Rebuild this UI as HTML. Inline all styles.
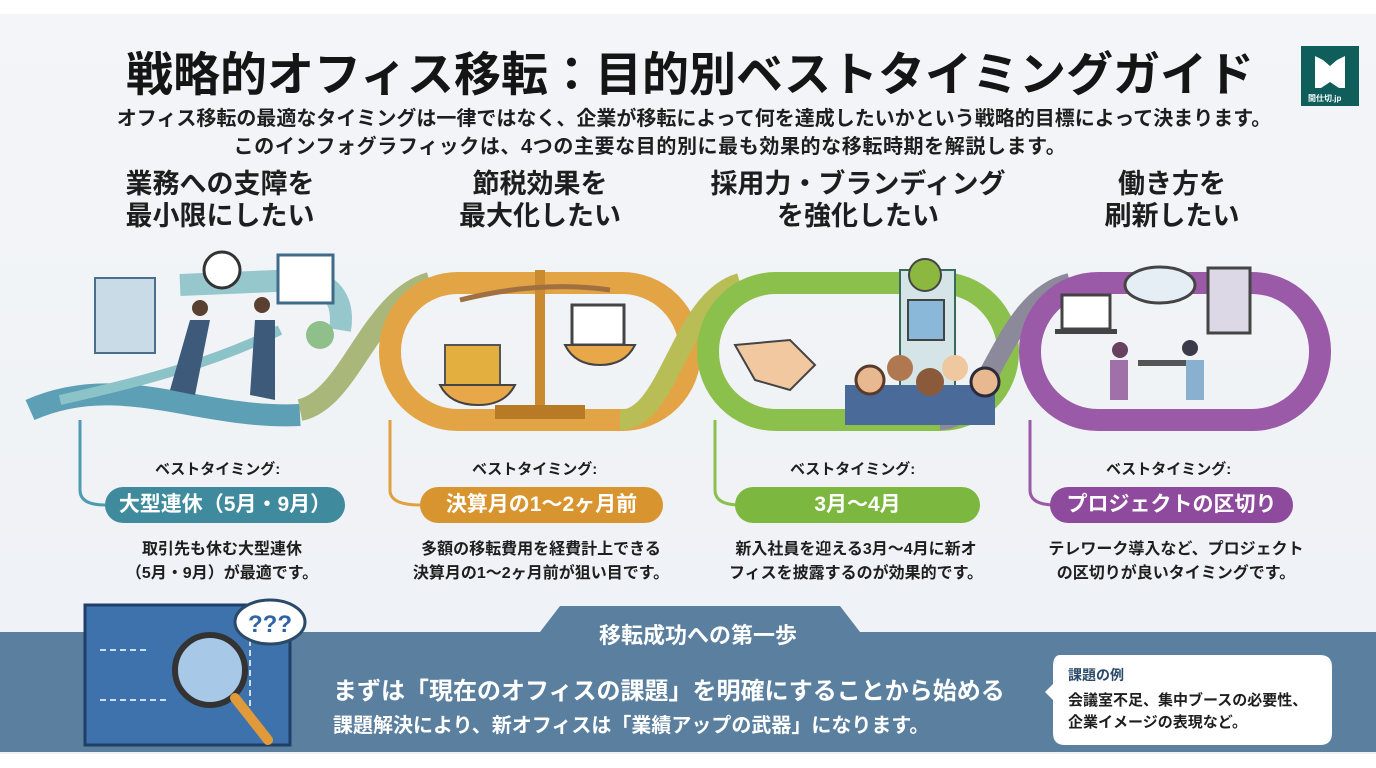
<!DOCTYPE html>
<html><head><meta charset="utf-8"><style>
body{margin:0;width:1376px;height:768px;overflow:hidden;background:#fff;font-family:"Liberation Sans","Noto Sans CJK JP",sans-serif;}
.wrap{position:absolute;left:0;top:14px;width:1376px;height:740px;background:linear-gradient(#f3f5f8,#eef1f5);}
.t{position:absolute;white-space:nowrap;font-weight:700;color:#1e1e1e;}
.c{text-align:center;transform:translateX(-50%);}
.pill{position:absolute;height:36px;border-radius:18px;color:#fff;font-weight:700;font-size:21px;line-height:36px;text-align:center;}
</style></head><body>
<div class="wrap"></div>
<div class="t c" style="left:690px;top:36px;font-size:47px;color:#151515;">戦略的オフィス移転：目的別ベストタイミングガイド</div>
<div style="position:absolute;left:1301px;top:46px;width:58px;height:60px;background:#0f5e5c;"></div>
<svg style="position:absolute;left:1301px;top:46px" width="58" height="60"><path d="M14,10 L22,14 L29,20 L36,14 L44,10 L44,42 L38,42 L29,36 L20,42 L14,42Z" fill="#fff"/></svg>
<div class="t" style="left:1308px;top:93px;color:#fff;font-size:8px;">間仕切.jp</div>
<div class="t c" style="left:694px;top:102px;font-size:20px;">オフィス移転の最適なタイミングは一律ではなく、企業が移転によって何を達成したいかという戦略的目標によって決まります。</div>
<div class="t c" style="left:650px;top:130px;font-size:20px;letter-spacing:0.6px;">このインフォグラフィックは、4つの主要な目的別に最も効果的な移転時期を解説します。</div>

<div class="t c" style="left:220px;top:168px;font-size:27px;line-height:32px;">業務への支障を<br>最小限にしたい</div>
<div class="t c" style="left:540px;top:168px;font-size:27px;line-height:32px;">節税効果を<br>最大化したい</div>
<div class="t c" style="left:858px;top:168px;font-size:27px;line-height:32px;">採用力・ブランディング<br>を強化したい</div>
<div class="t c" style="left:1172px;top:168px;font-size:27px;line-height:32px;">働き方を<br>刷新したい</div>

<svg style="position:absolute;left:0;top:0" width="1376" height="768">
<path d="M30,410 C120,370 200,420 300,415" fill="none" stroke="#4d96ad" stroke-width="22" opacity="0.9"/>
<path d="M60,400 C150,380 220,360 280,330" fill="none" stroke="#8cc3c9" stroke-width="10"/>
<path d="M180,285 L300,280 C330,280 345,300 340,330" fill="none" stroke="#7fbcc2" stroke-width="22" opacity="0.8"/>
<path d="M300,410 C350,400 370,300 430,283" fill="none" stroke="#a9b77a" stroke-width="22"/>
<rect x="390" y="283" width="300" height="137" rx="68" fill="none" stroke="#e3a445" stroke-width="22"/>
<path d="M620,420 C670,420 680,300 740,283" fill="none" stroke="#b9bd55" stroke-width="20"/>
<rect x="708" y="283" width="300" height="137" rx="68" fill="none" stroke="#8cc04c" stroke-width="22"/>
<path d="M940,420 C990,420 1000,300 1070,283" fill="none" stroke="#8c8a9a" stroke-width="20"/>
<rect x="1030" y="283" width="290" height="137" rx="68" fill="none" stroke="#9a5aa8" stroke-width="22"/>
<path d="M390,420 L390,490 Q390,505 420,505" fill="none" stroke="#e0a040" stroke-width="3"/>
<path d="M715,420 L715,490 Q715,505 740,505" fill="none" stroke="#8cc04c" stroke-width="3"/>
<path d="M1030,420 L1030,490 Q1030,505 1055,505" fill="none" stroke="#9a5aa8" stroke-width="3"/>
<path d="M80,420 L80,490 Q80,505 105,505" fill="none" stroke="#4d9bb0" stroke-width="3"/>
<rect x="95" y="278" width="60" height="75" fill="#c9dbe6" stroke="#4a6f8a" stroke-width="2"/>
<circle cx="222" cy="270" r="18" fill="#fff" stroke="#333" stroke-width="3"/>
<rect x="278" y="255" width="55" height="48" fill="#fff" stroke="#3f6a8a" stroke-width="3"/>
<path d="M170,390 L190,320 L210,320 L195,395Z M250,395 L255,320 L275,320 L275,400Z" fill="#3d5a7a"/>
<circle cx="200" cy="308" r="8" fill="#5a4030"/><circle cx="262" cy="305" r="8" fill="#5a4030"/>
<circle cx="320" cy="335" r="14" fill="#8fbf8a"/>
<rect x="535" y="270" width="10" height="135" fill="#c98a30"/><rect x="495" y="405" width="90" height="14" fill="#b97a25"/>
<path d="M460,300 Q540,280 610,290" fill="none" stroke="#a07040" stroke-width="5"/>
<rect x="445" y="345" width="55" height="45" fill="#e3b040" stroke="#555" stroke-width="2"/>
<path d="M440,385 L515,385 Q505,405 478,405 Q450,405 440,385Z" fill="#e8a84a" stroke="#444" stroke-width="2"/>
<rect x="572" y="305" width="52" height="40" fill="#fff" stroke="#444" stroke-width="3"/>
<path d="M565,345 L635,345 Q625,365 600,365 Q575,365 565,345Z" fill="#e8a84a" stroke="#444" stroke-width="2"/>
<path d="M735,345 L790,340 L815,365 L790,390 L755,380Z" fill="#f2c8a0" stroke="#444" stroke-width="2"/>
<rect x="900" y="270" width="55" height="150" fill="#d5e4e6" stroke="#3a6a5a" stroke-width="2"/>
<circle cx="925" cy="275" r="16" fill="#8cb840" stroke="#444" stroke-width="2"/>
<rect x="908" y="300" width="36" height="40" fill="#8ab8d8" stroke="#444" stroke-width="2"/>
<rect x="845" y="385" width="150" height="40" fill="#4a6a9a"/>
<circle cx="870" cy="380" r="14" fill="#e8b890" stroke="#5a3a2a" stroke-width="3"/><circle cx="900" cy="368" r="13" fill="#b07850"/><circle cx="930" cy="382" r="14" fill="#8a5a3a"/><circle cx="955" cy="368" r="13" fill="#f0c8a0"/><circle cx="985" cy="382" r="14" fill="#e8b890" stroke="#2a2a3a" stroke-width="3"/>
<rect x="1062" y="295" width="48" height="34" fill="#fff" stroke="#444" stroke-width="3"/>
<rect x="1055" y="329" width="62" height="5" fill="#444"/>
<ellipse cx="1160" cy="285" rx="35" ry="18" fill="#e5eef5" stroke="#444" stroke-width="3"/>
<rect x="1208" y="268" width="42" height="65" fill="#dcd8e6" stroke="#444" stroke-width="3"/>
<rect x="1138" y="360" width="50" height="6" fill="#555"/>
<circle cx="1120" cy="350" r="8" fill="#6a4060"/><circle cx="1190" cy="348" r="8" fill="#3a3a4a"/>
<rect x="1110" y="360" width="18" height="40" fill="#a070a8"/><rect x="1186" y="360" width="18" height="40" fill="#8ab0d0"/>
<path d="M0,632 L540,632 L560,606 L840,606 L860,632 L1376,632 L1376,752 L0,752 Z" fill="#5a7f9f"/>
<rect x="85" y="605" width="205" height="140" fill="#3d72ad" stroke="#1f3f66" stroke-width="3"/>
<path d="M100,650 L150,650 M100,700 L170,700 M250,630 L250,720" stroke="#cfe0f2" stroke-width="2" stroke-dasharray="6 4"/>
<circle cx="210" cy="670" r="35" fill="#a8c8e8" stroke="#333" stroke-width="6"/>
<line x1="235" y1="698" x2="268" y2="740" stroke="#e09a3a" stroke-width="10" stroke-linecap="round"/>
<ellipse cx="270" cy="622" rx="35" ry="22" fill="#fff" stroke="#2a4a6a" stroke-width="3"/>
<text x="248" y="632" font-family="Liberation Sans" font-weight="700" font-size="24" fill="#2f64a6">???</text>
<path d="M1060,655 L1320,655 Q1332,655 1332,667 L1332,733 Q1332,745 1320,745 L1065,745 Q1053,745 1053,733 L1053,700 L1045,692 L1053,684 L1053,667 Q1053,655 1060,655Z" fill="#fff"/>
</svg>

<div class="t" style="left:155px;top:458px;font-size:15px;">ベストタイミング:</div>
<div class="t" style="left:472px;top:458px;font-size:15px;">ベストタイミング:</div>
<div class="t" style="left:790px;top:458px;font-size:15px;">ベストタイミング:</div>
<div class="t" style="left:1106px;top:458px;font-size:15px;">ベストタイミング:</div>
<div class="pill" style="left:105px;top:487px;width:240px;background:#3f8a9c;">大型連休（5月・9月）</div>
<div class="pill" style="left:420px;top:487px;width:243px;background:#d8952f;">決算月の1～2ヶ月前</div>
<div class="pill" style="left:735px;top:487px;width:245px;background:#7cb83f;">3月～4月</div>
<div class="pill" style="left:1050px;top:487px;width:243px;background:#8e4a9c;">プロジェクトの区切り</div>
<div class="t c" style="left:222px;top:538px;font-size:16px;line-height:24px;">取引先も休む大型連休<br>（5月・9月）が最適です。</div>
<div class="t c" style="left:541px;top:538px;font-size:16px;line-height:24px;">多額の移転費用を経費計上できる<br>決算月の1～2ヶ月前が狙い目です。</div>
<div class="t c" style="left:856px;top:538px;font-size:16px;line-height:24px;">新入社員を迎える3月～4月に新オ<br>フィスを披露するのが効果的です。</div>
<div class="t c" style="left:1176px;top:538px;font-size:16px;line-height:24px;">テレワーク導入など、プロジェクト<br>の区切りが良いタイミングです。</div>

<div class="t c" style="left:698px;top:618px;font-size:22px;color:#fff;">移転成功への第一歩</div>
<div class="t" style="left:333px;top:671px;font-size:24px;color:#fff;">まずは「現在のオフィスの課題」を明確にすることから始める</div>
<div class="t" style="left:333px;top:709px;font-size:20px;color:#fff;">課題解決により、新オフィスは「業績アップの武器」になります。</div>
<div class="t" style="left:1068px;top:665px;font-size:14px;color:#2a4a6a;">課題の例</div>
<div class="t" style="left:1068px;top:690px;font-size:15px;line-height:22px;">会議室不足、集中ブースの必要性、<br>企業イメージの表現など。</div>
</body></html>
